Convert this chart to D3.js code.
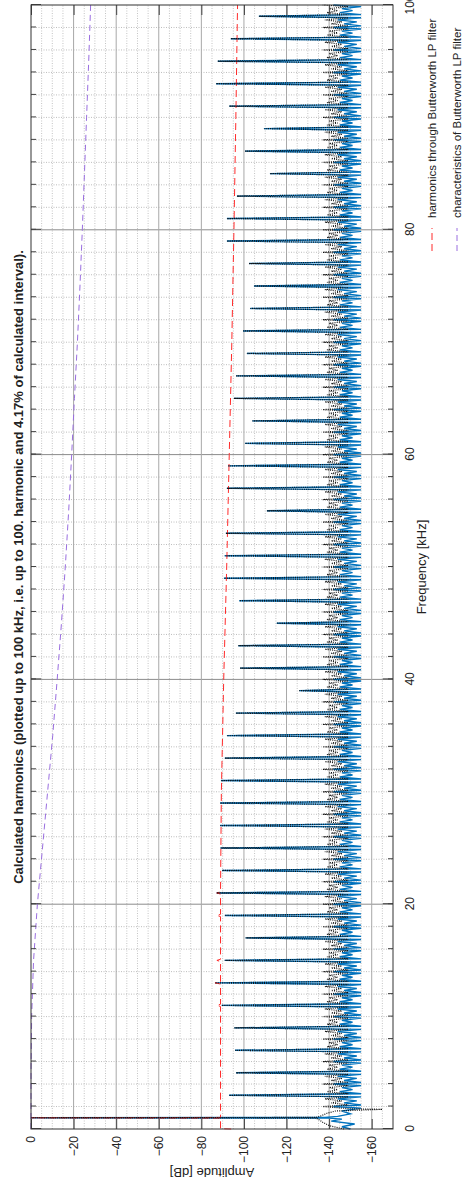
<!DOCTYPE html>
<html>
<head>
<meta charset="utf-8">
<script src="https://cdn.jsdelivr.net/npm/d3@7"></script>
<style>
  body { margin: 0; background: #fff; }
  svg { display: block; }
  text { font-family: "Liberation Sans", Arial, sans-serif; fill: #222; }
</style>
</head>
<body>
<div id="chart"></div>
<script>
// tick values
const freqTicks = [0, 20, 40, 60, 80, 100];
const ampTicks = [0, -20, -40, -60, -80, -100, -120, -140, -160];

// odd harmonics 3..99 kHz : peak level [dB]
const spikeOrder = d3.range(3, 100, 2);
const spikeDb = [
  -93, -96.3, -95.8, -95.5, -89.5, -86.4, -91, -100.8, -91, -87.2,   // 3-21
  -89.7, -89, -88.8, -88.8, -89.2, -91, -92, -96.2, -126, -98.2,     // 23-41
  -97.4, -115.4, -97.8, -90.6, -91, -91.5, -110.8, -92, -92.5, -100.5, // 43-61
  -104, -95.3, -96.3, -101.4, -99.6, -103, -104.7, -102.4, -92, -92,  // 63-81
  -96.7, -112.2, -100.5, -109.4, -93.1, -86.9, -87.7, -93.8, -107     // 83-99
];

// side lobes of the spectrum between harmonics (offset in kHz after each harmonic)
const lobeOffsets = [0.14, 0.32, 0.5, 0.68, 0.86];
const blueLobeOdd = [-155, -145, -151, -146, -155];
const blueLobeEven = [-155, -147, -153, -144, -155];
const blueEvenDb = -142;
const dotLobeOdd = [-149, -139, -144, -140, -149];
const dotLobeEven = [-149, -141, -146, -138, -149];
const dotEvenDb = -137;

// around the fundamental (1 kHz)
const blueLowF = [0, 0.2, 0.45, 0.7, 0.88, 0.97, 1, 1.03, 1.12, 1.35, 1.6, 1.86];
const blueLowDb = [-150, -146, -152, -141, -146, -140, 0, -138, -144, -150, -146, -155];
const dotLowF = [0, 0.3, 0.6, 0.85, 0.97, 1, 1.03, 1.15, 1.4, 1.6, 1.75, 1.8, 1.86];
const dotLowDb = [-147, -140, -137, -135, -134, 0, -134, -136, -139, -143, -165, -150, -146];

// harmonics through Butterworth LP filter
const redF = [0, 0.03, 0.97, 1, 1.03, 10.9, 11, 11.1, 12.9, 13, 13.1, 14.9, 15, 15.1,
  18.9, 19, 19.1, 20.9, 21, 21.1, 30, 40, 50, 60, 70, 80, 90, 100];
const redDb = [-94, -89, -89, 0, -89, -89, -87.3, -89, -89, -86.4, -89, -89, -87.3, -89,
  -89, -87.2, -89, -89, -87.2, -89, -89.4, -90.5, -91.9, -93.1, -94.3, -95.3, -96.2, -97];

// characteristics of Butterworth LP filter
const filtF = [0, 5, 10, 15, 20, 25, 30, 35, 40, 45, 50, 55, 60, 65, 70, 75, 80, 85, 90, 95, 100];
const filtDb = [0, -0.02, -0.3, -1.2, -3, -5.4, -7.8, -10.2, -12.3, -14.3, -16.1, -17.7,
  -19.1, -20.4, -21.8, -23, -24.1, -25.1, -26.1, -27.1, -28];

const legendLabels = ['harmonics through Butterworth LP filter', 'characteristics of Butterworth LP filter'];

// build the two spectrum lines
const blue = blueLowF.map((f, i) => [f, blueLowDb[i]]);
const dots = dotLowF.map((f, i) => [f, dotLowDb[i]]);
for (let k = 2; k <= 100; k++) {
  const odd = k % 2 === 1;
  const peak = odd ? spikeDb[spikeOrder.indexOf(k)] : null;
  blue.push([k, odd ? peak : blueEvenDb]);
  dots.push([k, odd ? peak : dotEvenDb]);
  if (k < 100) {
    lobeOffsets.forEach((o, i) => {
      blue.push([k + o, (odd ? blueLobeOdd : blueLobeEven)[i]]);
      dots.push([k + o, (odd ? dotLobeOdd : dotLobeEven)[i]]);
    });
  }
}
const red = redF.map((f, i) => [f, redDb[i]]);
const filt = filtF.map((f, i) => [f, filtDb[i]]);

// the chart is laid out landscape, then turned a quarter to the left
const W = 1182, H = 464;
const x0 = 53, x1 = 1177, y0 = 31, y1 = 393;

const svg = d3.select('#chart').append('svg')
  .attr('width', H)
  .attr('height', W);
const g = svg.append('g').attr('transform', `translate(0,${W}) rotate(-90)`);

const x = d3.scaleLinear().domain([0, 100]).range([x0, x1]);
const y = d3.scaleLinear().domain([0, -170]).range([y0, y1]);

// grid
const grid = g.append('g');
grid.selectAll('.fmin').data(d3.range(2, 100, 2).filter(d => d % 20))
  .join('line')
  .attr('x1', d => x(d)).attr('x2', d => x(d)).attr('y1', y0).attr('y2', y1)
  .attr('stroke', '#bdbdbd').attr('stroke-dasharray', '1,1.5');
grid.selectAll('.amin').data(d3.range(-5, -170, -5).filter(d => d % 20))
  .join('line')
  .attr('y1', d => y(d)).attr('y2', d => y(d)).attr('x1', x0).attr('x2', x1)
  .attr('stroke', '#c4c4c4').attr('stroke-dasharray', '1,1.5');
grid.selectAll('.fmaj').data(freqTicks.slice(1, -1))
  .join('line')
  .attr('x1', d => x(d)).attr('x2', d => x(d)).attr('y1', y0).attr('y2', y1)
  .attr('stroke', '#8c8c8c');
grid.selectAll('.amaj').data(ampTicks.slice(1))
  .join('line')
  .attr('y1', d => y(d)).attr('y2', d => y(d)).attr('x1', x0).attr('x2', x1)
  .attr('stroke', '#a8a8a8');

// lines
const line = d3.line().x(d => x(d[0])).y(d => y(d[1]));
const plot = g.append('g');
plot.append('path').datum(blue)
  .attr('fill', 'none').attr('stroke', '#0072bd').attr('stroke-width', 1.4).attr('d', line);
plot.append('path').datum(red)
  .attr('fill', 'none').attr('stroke', '#ff2b2b').attr('stroke-width', 1)
  .attr('stroke-dasharray', '7,4').attr('d', line);
plot.append('path').datum(filt)
  .attr('fill', 'none').attr('stroke', '#9a6ee0').attr('stroke-width', 1)
  .attr('stroke-dasharray', '6,4').attr('d', line);
plot.append('path').datum(dots)
  .attr('fill', 'none').attr('stroke', '#111').attr('stroke-width', 1.2)
  .attr('stroke-dasharray', '1,1.2').attr('d', line);

// axes, ticks inward
const minorF = d3.range(0, 101, 2);
g.append('g').attr('transform', `translate(0,${y1})`)
  .call(d3.axisBottom(x).tickValues(minorF).tickSize(-5).tickFormat(''));
g.append('g').attr('transform', `translate(0,${y0})`)
  .call(d3.axisTop(x).tickValues(minorF).tickSize(-5).tickFormat(''));
g.append('g').attr('transform', `translate(0,${y1})`)
  .call(d3.axisBottom(x).tickValues(freqTicks).tickSize(-10).tickPadding(12));
g.append('g').attr('transform', `translate(0,${y0})`)
  .call(d3.axisTop(x).tickValues(freqTicks).tickSize(-10).tickFormat(''));
g.append('g').attr('transform', `translate(${x0},0)`)
  .call(d3.axisLeft(y).tickValues(ampTicks).tickSize(-10).tickPadding(7));
g.append('g').attr('transform', `translate(${x1},0)`)
  .call(d3.axisRight(y).tickValues(ampTicks).tickSize(-10).tickFormat(''));
g.selectAll('.domain').remove();
g.selectAll('.tick line').attr('stroke', '#444');
g.selectAll('.tick text').attr('font-size', 12).attr('fill', '#222')
  .attr('font-family', '"Liberation Sans", Arial, sans-serif');

// frame
g.append('rect')
  .attr('x', x0).attr('y', y0).attr('width', x1 - x0).attr('height', y1 - y0)
  .attr('fill', 'none').attr('stroke', '#333').attr('stroke-width', 1);

// texts
g.append('text')
  .attr('x', (x0 + x1) / 2).attr('y', 23)
  .attr('text-anchor', 'middle').attr('font-size', 13).attr('font-weight', 'bold')
  .text('Calculated harmonics (plotted up to 100 kHz, i.e. up to 100. harmonic and 4.17% of calculated interval).');
g.append('text')
  .attr('x', (x0 + x1) / 2).attr('y', 426)
  .attr('text-anchor', 'middle').attr('font-size', 13)
  .text('Frequency [kHz]');
g.append('text')
  .attr('transform', `translate(14,${(y0 + y1) / 2}) rotate(-90)`)
  .attr('text-anchor', 'middle').attr('font-size', 13)
  .text('Amplitude [dB]');

// legend
const legendColors = ['#ff2b2b', '#9a6ee0'];
const legendDash = ['7,4', '6,4'];
const legend = g.append('g');
legendLabels.forEach((t, i) => {
  const ly = 432 + i * 25;
  legend.append('line')
    .attr('x1', 931).attr('x2', 954).attr('y1', ly).attr('y2', ly)
    .attr('stroke', legendColors[i]).attr('stroke-dasharray', legendDash[i]);
  legend.append('text')
    .attr('x', 964).attr('y', ly + 4).attr('font-size', 11.5)
    .text(t);
});
</script>
</body>
</html>
